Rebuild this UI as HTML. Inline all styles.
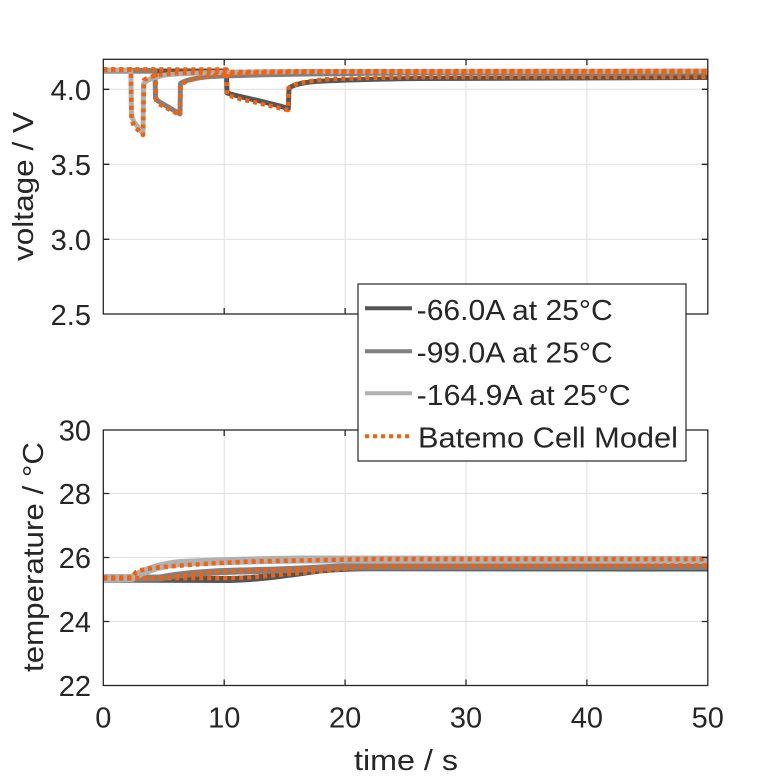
<!DOCTYPE html>
<html>
<head>
<meta charset="utf-8">
<style>
  html, body { margin: 0; padding: 0; background: #ffffff; }
  svg { display: block; }
  text { font-family: "Liberation Sans", Arial, sans-serif; fill: #262626; }
</style>
</head>
<body>
<svg width="781" height="781" viewBox="0 0 781 781" xmlns="http://www.w3.org/2000/svg">
  <rect x="0" y="0" width="781" height="781" fill="#ffffff"/>

  <!-- ================= TOP AXES (voltage) ================= -->
  <rect x="103.3" y="59.3" width="604.5" height="254.7" fill="#ffffff"/>
  <g stroke="#dfdfdf" stroke-width="1">
    <line x1="224.2" y1="59.3" x2="224.2" y2="314"/>
    <line x1="345.1" y1="59.3" x2="345.1" y2="314"/>
    <line x1="466" y1="59.3" x2="466" y2="314"/>
    <line x1="586.9" y1="59.3" x2="586.9" y2="314"/>
    <line x1="103.3" y1="89.3" x2="707.8" y2="89.3"/>
    <line x1="103.3" y1="164.3" x2="707.8" y2="164.3"/>
    <line x1="103.3" y1="239.3" x2="707.8" y2="239.3"/>
  </g>

  <!-- voltage curves -->
  <g fill="none" stroke-linejoin="round" stroke-linecap="butt">
    <path stroke="#555555" stroke-width="5" d="M103.3,71 L226.5,71 L227,93 L240,96.5 L260,101 L280,106 L288.3,108.5 L289,88.5 C292,85 300,83 315,81.5 C340,80 380,79 420,78.5 L707.8,77.5"/>
    <path stroke="#808080" stroke-width="5" d="M103.3,70.5 L155,70.5 L155.5,98 L158,101 L180,114 L180.5,83.5 C185,80 195,78 210,76.5 C240,75 300,74 400,73 L707.8,72.5"/>
    <path stroke="#b0b0b0" stroke-width="5" d="M103.3,70 L130.8,70 L131.5,116 L134,122 L143,133.5 L143.5,84 C146,80 152,77.5 165,75 C185,73 220,72 300,71.5 L707.8,71"/>

    <path stroke="#f0620f" stroke-width="4.5" stroke-dasharray="4 4" d="M103.3,69.5 L131,69.5 L131.5,119 L134,126 L143,135 L144,80 C150,76 160,74 180,73 C230,72 270,71.5 300,71.3 L707.8,71"/>
    <path stroke="#f0620f" stroke-width="4.5" stroke-dasharray="4 4" d="M103.3,69.5 L155.5,69.5 L156,100 L159,104 L180,115 L180.5,85 C186,80 200,77 220,75 C260,73 290,72 320,71.8 L707.8,71.5"/>
    <path stroke="#f0620f" stroke-width="4.5" stroke-dasharray="4 4" d="M103.3,69.5 L226.7,69.5 L227,95 L240,99 L260,103.5 L288,110 L288.5,88 C293,84 305,81 330,79 C370,77.8 400,77.3 420,77 L707.8,77"/>
  </g>

  <!-- top axes box and ticks -->
  <g stroke="#262626" stroke-width="1.3" fill="none">
    <rect x="103.3" y="59.3" width="604.5" height="254.7"/>
    <path d="M224.2,314 v-6 M345.1,314 v-6 M466,314 v-6 M586.9,314 v-6
             M224.2,59.3 v6 M345.1,59.3 v6 M466,59.3 v6 M586.9,59.3 v6"/>
    <path d="M103.3,89.3 h6 M103.3,164.3 h6 M103.3,239.3 h6
             M707.8,89.3 h-6 M707.8,164.3 h-6 M707.8,239.3 h-6"/>
  </g>

  <g font-size="29" text-anchor="end">
    <text x="91" y="99.8">4.0</text>
    <text x="91" y="174.8">3.5</text>
    <text x="91" y="249.8">3.0</text>
    <text x="91" y="324.8">2.5</text>
  </g>
  <text font-size="29" text-anchor="middle" transform="translate(33,186.5) rotate(-90)" textLength="149" lengthAdjust="spacingAndGlyphs">voltage / V</text>

  <!-- ================= BOTTOM AXES (temperature) ================= -->
  <g stroke="#dfdfdf" stroke-width="1">
    <line x1="224.2" y1="430" x2="224.2" y2="685.5"/>
    <line x1="345.1" y1="430" x2="345.1" y2="685.5"/>
    <line x1="466" y1="430" x2="466" y2="685.5"/>
    <line x1="586.9" y1="430" x2="586.9" y2="685.5"/>
    <line x1="103.3" y1="493.5" x2="707.8" y2="493.5"/>
    <line x1="103.3" y1="557.5" x2="707.8" y2="557.5"/>
    <line x1="103.3" y1="621.5" x2="707.8" y2="621.5"/>
  </g>

  <g fill="none" stroke-linejoin="round">
    <path stroke="#555555" stroke-width="7" d="M103.3,579 L230,579.5 C260,579 290,574 320,570 C340,568 360,567.5 380,567.8 L707.8,568"/>
    <path stroke="#808080" stroke-width="7" d="M103.3,578.5 L160,578 C175,575 200,572 240,571 C290,570 320,568 340,567 L707.8,566.5"/>
    <path stroke="#b0b0b0" stroke-width="8" d="M103.3,578 L132,578 C145,570 160,565 180,563 C220,561 280,559.8 300,559.5 L707.8,560"/>

    <path stroke="#f0620f" stroke-width="4.5" stroke-dasharray="4 4" d="M103.3,577.5 L132,577.5 L136,572 L145,569 C170,566 210,563 260,561.3 C320,560 360,559.2 380,559 L707.8,559"/>
    <path stroke="#f0620f" stroke-width="4.5" stroke-dasharray="4 4" d="M103.3,578 L165,578 C180,575 200,573 235,571 C270,570 300,569 340,567 L707.8,565.5"/>
    <path stroke="#f0620f" stroke-width="4.5" stroke-dasharray="4 4" d="M103.3,578.5 L240,578 C260,577 285,574 333,570 C360,567 375,566 383,565.8 L707.8,565.5"/>
  </g>

  <g stroke="#262626" stroke-width="1.3" fill="none">
    <rect x="103.3" y="430" width="604.5" height="255.5"/>
    <path d="M224.2,685.5 v-6 M345.1,685.5 v-6 M466,685.5 v-6 M586.9,685.5 v-6
             M224.2,430 v6 M345.1,430 v6 M466,430 v6 M586.9,430 v6"/>
    <path d="M103.3,493.5 h6 M103.3,557.5 h6 M103.3,621.5 h6
             M707.8,493.5 h-6 M707.8,557.5 h-6 M707.8,621.5 h-6"/>
  </g>

  <g font-size="29" text-anchor="end">
    <text x="91" y="440.5">30</text>
    <text x="91" y="504">28</text>
    <text x="91" y="568">26</text>
    <text x="91" y="632">24</text>
    <text x="91" y="696">22</text>
  </g>
  <text font-size="29" text-anchor="middle" transform="translate(43,557) rotate(-90)" textLength="230" lengthAdjust="spacingAndGlyphs">temperature / °C</text>

  <g font-size="29" text-anchor="middle">
    <text x="103.3" y="727.7">0</text>
    <text x="224.2" y="727.7">10</text>
    <text x="345.1" y="727.7">20</text>
    <text x="466" y="727.7">30</text>
    <text x="586.9" y="727.7">40</text>
    <text x="707.8" y="727.7">50</text>
  </g>
  <text font-size="29" text-anchor="middle" x="406" y="770" textLength="104" lengthAdjust="spacingAndGlyphs">time / s</text>

  <!-- ================= LEGEND ================= -->
  <rect x="358" y="284" width="328" height="177" fill="#ffffff" stroke="#262626" stroke-width="1.2"/>
  <line x1="365" y1="308.3" x2="412" y2="308.3" stroke="#555555" stroke-width="4"/>
  <line x1="365" y1="351.3" x2="412" y2="351.3" stroke="#808080" stroke-width="4"/>
  <line x1="365" y1="393.3" x2="412" y2="393.3" stroke="#b0b0b0" stroke-width="4"/>
  <line x1="365" y1="436.3" x2="412" y2="436.3" stroke="#f0620f" stroke-width="4" stroke-dasharray="4 4"/>
  <g font-size="29">
    <text x="416.7" y="320" textLength="196" lengthAdjust="spacingAndGlyphs">-66.0A at 25°C</text>
    <text x="416.7" y="362.7" textLength="196" lengthAdjust="spacingAndGlyphs">-99.0A at 25°C</text>
    <text x="416.7" y="405" textLength="214" lengthAdjust="spacingAndGlyphs">-164.9A at 25°C</text>
    <text x="418" y="447.7" textLength="260" lengthAdjust="spacingAndGlyphs">Batemo Cell Model</text>
  </g>
</svg>
</body>
</html>
